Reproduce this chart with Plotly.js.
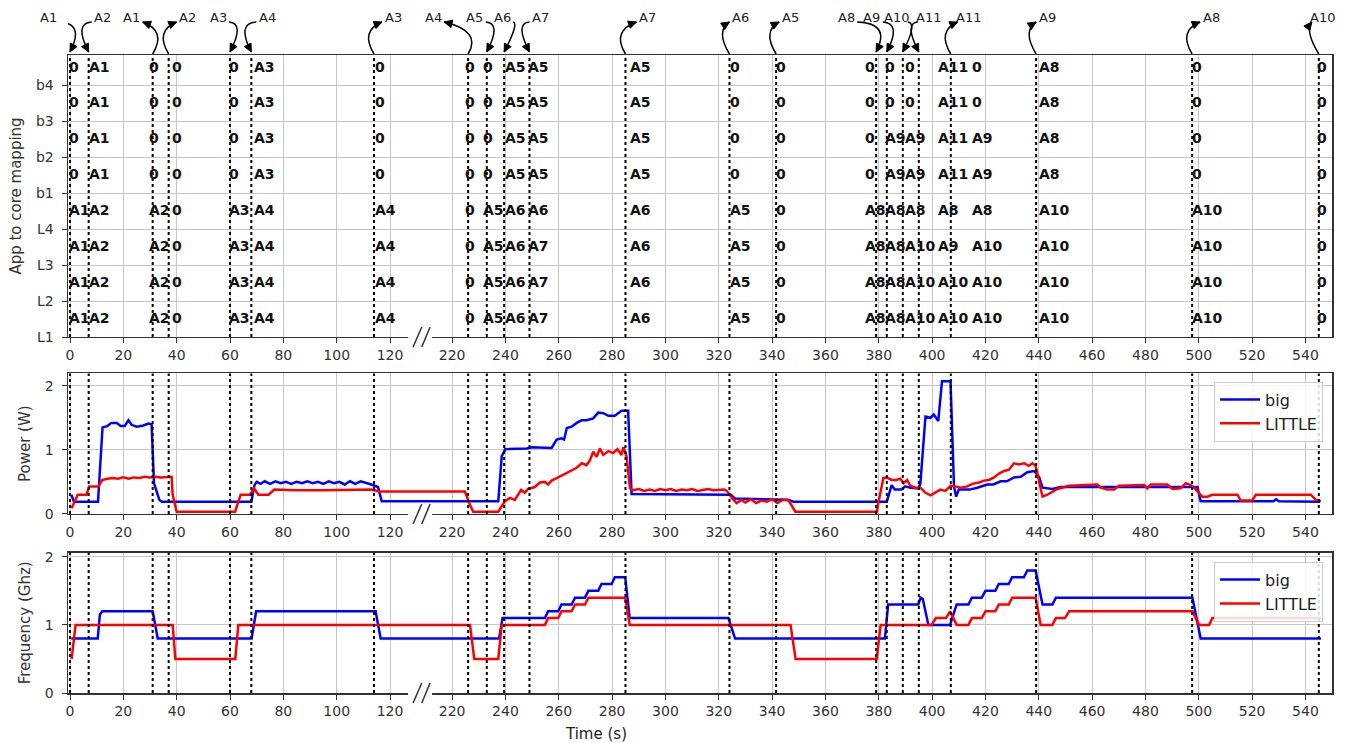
<!DOCTYPE html>
<html><head><meta charset="utf-8">
<script src="https://cdn.plot.ly/plotly-3.0.1.min.js"></script>
<style>html,body{margin:0;padding:0;background:#fff;}#chart{width:1349px;height:743px;}</style>
</head><body><div id="chart"></div>
<script>
// ================= DATA =================
const cores = ['L1','L2','L3','L4','b1','b2','b3','b4'];
// times (s) where the app-to-core mapping labels are written
const labelTimes = [-0.4,7.1,29.5,38.2,59.7,69,114.4,225,231.5,240,248.6,286.7,324.2,341.4,374.8,382.3,390,402.1,414.9,439.9,497.4,544.5];
const mapL1 = ['A1','A2','A2','0','A3','A4','A4','0','A5','A6','A7','A6','A5','0','A8','A8','A10','A10','A10','A10','A10','0'];
const mapL2 = ['A1','A2','A2','0','A3','A4','A4','0','A5','A6','A7','A6','A5','0','A8','A8','A10','A10','A10','A10','A10','0'];
const mapL3 = ['A1','A2','A2','0','A3','A4','A4','0','A5','A6','A7','A6','A5','0','A8','A8','A10','A9','A10','A10','A10','0'];
const mapL4 = ['A1','A2','A2','0','A3','A4','A4','0','A5','A6','A6','A6','A5','0','A8','A8','A8','A8','A8','A10','A10','0'];
const mapB1 = ['0','A1','0','0','0','A3','0','0','0','A5','A5','A5','0','0','0','A9','A9','A11','A9','A8','0','0'];
const mapB2 = ['0','A1','0','0','0','A3','0','0','0','A5','A5','A5','0','0','0','A9','A9','A11','A9','A8','0','0'];
const mapB3 = ['0','A1','0','0','0','A3','0','0','0','A5','A5','A5','0','0','0','0','0','A11','0','A8','0','0'];
const mapB4 = ['0','A1','0','0','0','A3','0','0','0','A5','A5','A5','0','0','0','0','0','A11','0','A8','0','0'];

// app arrival / departure events
const eventTimes = [0,7,31,37,60,68,114,226,233,239.5,249,285,324,341.5,379,383,389,395,407,439,497.5,545];
const eventApps  = ['A1','A2','A1','A2','A3','A4','A3','A4','A5','A6','A7','A7','A6','A5','A8','A9','A10','A11','A11','A9','A8','A10'];
const eventKind  = ['in','in','out','out','in','in','out','out','in','in','in','out','out','out','in','in','in','in','out','out','out','out'];

const xTicks = [0,20,40,60,80,100,120,220,240,260,280,300,320,340,360,380,400,420,440,460,480,500,520,540];

// Power (W)
const powBigT = [0.5,1.5,10.5,12.2,14,15.5,17.5,19,20.5,21.9,23.1,25,27.5,29.4,30.6,31.5,33.5,34.4,68,69.2,70,71.5,73,75,77,79,81,83,85,87,89,91,93,95,97,99,101,103,105,107,109,111,113,115.5,116.9,
  237.3,238.6,239.9,248,250,257.3,259.2,261,262,263,264.8,266.7,268.6,270.4,272.9,274.8,276.7,278.6,281,283.5,286,287.3,324.5,326.1,346,348,383,384.8,386,388.5,389.9,391.8,394.9,395.6,397.5,399.4,400.6,402.3,403.7,406.9,408.2,409,410,414,416.9,420.7,423,425.7,428,430.7,433.2,435.7,438.2,440.1,441.4,445.1,448.2,499.5,500.7,528,529,530,545.5];
const powBig = [0.30,0.19,0.19,1.35,1.37,1.42,1.42,1.37,1.37,1.46,1.39,1.36,1.38,1.41,1.40,0.48,0.22,0.19,0.19,0.45,0.50,0.47,0.51,0.47,0.51,0.48,0.50,0.47,0.50,0.48,0.51,0.48,0.50,0.47,0.51,0.48,0.50,0.46,0.51,0.47,0.51,0.49,0.46,0.42,0.20,
  0.20,0.90,1.01,1.02,1.04,1.03,1.16,1.18,1.16,1.34,1.36,1.42,1.46,1.46,1.49,1.58,1.57,1.53,1.53,1.61,1.61,0.31,0.30,0.24,0.22,0.19,0.19,0.45,0.38,0.38,0.43,0.41,0.40,0.48,1.52,1.50,1.55,1.45,2.07,2.07,0.43,0.27,0.38,0.38,0.41,0.46,0.46,0.51,0.51,0.57,0.58,0.65,0.67,0.58,0.41,0.39,0.42,0.42,0.20,0.20,0.23,0.20,0.19];
const powLitT = [0.6,2.9,6.2,7.2,10.6,12.1,14,16,18,20,22,24,26,28,30,32,34,36,38.1,38.5,40,61.9,64,67.5,69,70.6,74.5,76.6,85,95,105,113,116,
  224.8,226.7,227.9,237.3,239.8,241.7,243.5,245.9,247.2,248.5,251,252.9,254.8,256,257.3,259.2,261,262.9,264.8,266.7,268.6,270.4,271.7,272.9,274.2,275.4,276.7,278.6,280.4,282,283.5,284.2,285.4,286.7,288,290,292,294,296,298,300,302,304,306,308,310,312,314,316,318,320,322,323,324.9,326.7,328.5,330,332,334,336,338,340,342,344,346.2,348.7,379.2,381.7,382.9,384.8,386.5,388.1,389.3,390.6,391.8,393.7,395.6,397.5,399.4,401.2,403.1,405,406.9,408.8,410.7,413.2,415.1,417.6,419.4,421.3,423.2,425.1,427,428.8,430.7,432.6,434.5,436.3,437.6,438.8,440.1,441.4,443.2,445.1,447,451.4,462,463.2,465.7,468.2,470.1,479.5,480.7,482,488.2,490.1,493.2,495.1,497,498.2,500.1,501.3,503.2,505.1,514.5,515.7,520.1,521.4,542,543.9,545.8];
const powLit = [0.09,0.30,0.30,0.43,0.43,0.53,0.55,0.56,0.55,0.57,0.55,0.57,0.56,0.58,0.57,0.58,0.57,0.58,0.58,0.30,0.035,0.035,0.30,0.30,0.40,0.30,0.30,0.38,0.37,0.37,0.37,0.38,0.35,
  0.35,0.14,0.035,0.035,0.20,0.25,0.22,0.375,0.33,0.39,0.42,0.49,0.50,0.46,0.52,0.56,0.60,0.64,0.69,0.72,0.79,0.76,0.84,0.97,0.89,1.02,0.92,0.98,0.95,1.01,0.92,1.04,0.90,0.40,0.37,0.39,0.36,0.38,0.36,0.39,0.37,0.39,0.36,0.38,0.37,0.39,0.36,0.38,0.39,0.37,0.38,0.38,0.36,0.25,0.17,0.22,0.18,0.23,0.17,0.21,0.19,0.23,0.17,0.22,0.21,0.035,0.035,0.56,0.57,0.53,0.53,0.55,0.48,0.53,0.44,0.41,0.41,0.33,0.29,0.33,0.38,0.36,0.44,0.43,0.41,0.43,0.47,0.49,0.52,0.53,0.57,0.63,0.67,0.69,0.79,0.77,0.79,0.75,0.79,0.75,0.49,0.27,0.30,0.35,0.39,0.44,0.46,0.41,0.38,0.38,0.44,0.45,0.40,0.46,0.46,0.39,0.40,0.48,0.45,0.41,0.33,0.27,0.27,0.30,0.30,0.21,0.21,0.30,0.30,0.22,0.20];

// Frequency (GHz)
const frqBigT = [0.5,10.4,11.2,12.1,31,32.9,68.1,69.8,114.6,116.5,237.6,238.9,254.8,256,259.8,261,264.8,266.1,269.8,271.1,274.8,276,279.8,281,284.9,286.6,323.6,326.1,382.3,383.5,394.8,395.7,396.5,398.6,406.7,409.2,413.6,414.9,418.6,420,423.7,425,428.7,430,434.4,435.7,438.8,441.4,445.1,446.4,497.6,500.7,545.8];
const frqBig = [0.8,0.8,1.15,1.2,1.2,0.8,0.8,1.2,1.2,0.8,0.8,1.1,1.1,1.2,1.2,1.3,1.3,1.4,1.4,1.5,1.5,1.6,1.6,1.7,1.7,1.1,1.1,0.8,0.8,1.3,1.3,1.4,1.38,1.0,1.0,1.3,1.3,1.4,1.4,1.5,1.5,1.6,1.6,1.7,1.7,1.8,1.8,1.3,1.3,1.4,1.4,0.8,0.8];
const frqLitT = [0.6,2.1,38.5,39.5,62,63.1,226.7,228.3,237.3,238.6,254.8,256,259.8,261,264.8,266.1,269.8,271.1,284.9,286.6,346.9,348.8,379.2,380.7,399.8,401.4,405.2,406.7,409.2,413.6,414.9,418.6,420,423.7,425,428.7,430,438.8,440.7,445.1,446.4,449.8,451.4,497.6,500.1,503.9,505.1,545.8];
const frqLit = [0.5,1.0,1.0,0.5,0.5,1.0,1.0,0.5,0.5,1.0,1.0,1.1,1.1,1.2,1.2,1.3,1.3,1.4,1.4,1.0,1.0,0.5,0.5,1.0,1.0,1.1,1.1,1.2,1.0,1.0,1.1,1.1,1.2,1.2,1.3,1.3,1.4,1.4,1.0,1.0,1.1,1.1,1.2,1.2,1.0,1.0,1.1,1.1];

// ================= LAYOUT HELPERS =================
const GAP = 76.7;                       // seconds removed by the broken axis
const disp = t => (t > 170 ? t - GAP : t);
const FONT = 'DejaVu Sans';
const BLUE = '#0000ff', RED = '#ff0000';

const traces = [
  {x: powBigT.map(disp), y: powBig, xaxis:'x2', yaxis:'y2', name:'big', legend:'legend', mode:'lines', line:{color:BLUE,width:2.5}},
  {x: powLitT.map(disp), y: powLit, xaxis:'x2', yaxis:'y2', name:'LITTLE', legend:'legend', mode:'lines', line:{color:RED,width:2.5}},
  {x: frqBigT.map(disp), y: frqBig, xaxis:'x3', yaxis:'y3', name:'big', legend:'legend2', mode:'lines', line:{color:BLUE,width:2.5}},
  {x: frqLitT.map(disp), y: frqLit, xaxis:'x3', yaxis:'y3', name:'LITTLE', legend:'legend2', mode:'lines', line:{color:RED,width:2.5}},
  // invisible anchor trace so the top subplot exists
  {x:[0], y:[0], xaxis:'x', yaxis:'y', mode:'markers', marker:{opacity:0}, showlegend:false, hoverinfo:'skip'}
];

const shapes = [];
const annotations = [];

// dotted event lines in all three panels
['y','y2','y3'].forEach((ya, k) => {
  const xa = ['x','x2','x3'][k];
  eventTimes.forEach(t => shapes.push({type:'line', xref:xa, yref: ya + ' domain', x0:disp(t), x1:disp(t), y0:0, y1:1,
    line:{color:'#000', width:2, dash:'dot'}, layer:'above'}));
});

// break marks "//" on each x axis
const breakX = (disp(120) + disp(220)) / 2;
['y','y2','y3'].forEach((ya, k) => {
  const xa = ['x','x2','x3'][k];
  const base = {xref:xa, yref:ya + ' domain', xsizemode:'pixel', ysizemode:'pixel', xanchor:breakX, yanchor:0, layer:'above'};
  shapes.push(Object.assign({type:'line', x0:-13, x1:11, y0:0, y1:0, line:{color:'#fff', width:4}}, base));
  shapes.push(Object.assign({type:'line', x0:-8, x1:0.7, y0:-10, y1:10, line:{color:'#333', width:1.5}}, base));
  shapes.push(Object.assign({type:'line', x0:0.7, x1:9, y0:-10, y1:10, line:{color:'#333', width:1.5}}, base));
});

// app-to-core mapping labels
const rows = [mapL1, mapL2, mapL3, mapL4, mapB1, mapB2, mapB3, mapB4];
rows.forEach((row, i) => row.forEach((lab, j) => annotations.push({
  x: disp(labelTimes[j]), y: i + 0.53, xref:'x', yref:'y', xanchor:'left', yanchor:'middle', xshift:-2,
  text:'<b>' + lab + '</b>', showarrow:false, font:{family:FONT, size:14, color:'#111'}
})));

// curved arrows for arrivals / departures (offsets of the label in pixels)
const arrowDx = [-22,14,-21,19,-12,16,19,-35,-12,-2,11,22,11,14,-30,-15,-6,10,18,11,19,4];
function P(p){ return p[0].toFixed(1) + ',' + (-p[1]).toFixed(1); } // screen y (down) -> shape pixel y (up)
eventTimes.forEach((t, i) => {
  const dx = arrowDx[i], s = dx >= 0 ? 1 : -1;
  const textEnd = [dx - s*11, -33];
  let P0, C, P2;
  if (eventKind[i] === 'in') { P0 = textEnd; C = [-s*15, -32]; P2 = [0, -3]; }
  else { P0 = [0, -1]; C = [-s*14, -24]; P2 = textEnd; }
  const base = {xref:'x', yref:'paper', xsizemode:'pixel', ysizemode:'pixel', xanchor:disp(t), yanchor:1, layer:'above'};
  shapes.push(Object.assign({type:'path', path:'M' + P(P0) + ' Q' + P(C) + ' ' + P(P2), line:{color:'#000', width:1.5}}, base));
  let vx = P2[0]-C[0], vy = P2[1]-C[1]; const L = Math.hypot(vx, vy); vx/=L; vy/=L;
  const b = [P2[0]-vx*8, P2[1]-vy*8], n = [-vy*3.8, vx*3.8];
  shapes.push(Object.assign({type:'path', path:'M' + P(P2) + ' L' + P([b[0]+n[0], b[1]+n[1]]) + ' L' + P([b[0]-n[0], b[1]-n[1]]) + ' Z',
    fillcolor:'#000', line:{color:'#000', width:1}}, base));
  annotations.push({x:disp(t), y:1, xref:'x', yref:'paper', xshift:dx, yshift:38, xanchor:'center', yanchor:'middle',
    text:eventApps[i], showarrow:false, font:{family:FONT, size:13, color:'#222'}});
});

// x-axis title
annotations.push({x:disp(274), y:0, xref:'x', yref:'paper', yshift:-41, yanchor:'middle', xanchor:'center', text:'Time (s)',
  showarrow:false, font:{family:FONT, size:15, color:'#222'}});

const xCommon = {
  range:[disp(-0.75), disp(549.95)], tickmode:'array', tickvals:xTicks.map(disp), ticktext:xTicks.map(String),
  showgrid:true, gridcolor:'#c6c6c6', gridwidth:1, zeroline:false, showline:true, mirror:true, linecolor:'#333', linewidth:1.5,
  ticks:'outside', ticklen:5, tickcolor:'#333', tickfont:{family:FONT, size:14, color:'#333'}
};
const yCommon = {
  showgrid:true, gridcolor:'#c6c6c6', gridwidth:1, zeroline:false, showline:true, mirror:true, linecolor:'#333', linewidth:1.5,
  ticks:'outside', ticklen:5, tickcolor:'#333', ticklabelstandoff:5, tickfont:{family:FONT, size:14, color:'#333'}
};
const legendStyle = {xref:'paper', yref:'paper', xanchor:'right', yanchor:'top', bgcolor:'rgba(255,255,255,0.85)',
  bordercolor:'#cccccc', borderwidth:1, itemwidth:40, font:{family:FONT, size:16, color:'#222'}};

const layout = {
  width:1349, height:743, margin:{l:68, r:17, t:55, b:50}, paper_bgcolor:'#fff', plot_bgcolor:'#fff',
  font:{family:FONT, color:'#222'}, showlegend:true,
  xaxis: Object.assign({anchor:'y', domain:[0,1]}, xCommon),
  xaxis2: Object.assign({anchor:'y2', domain:[0,1], matches:'x'}, xCommon),
  xaxis3: Object.assign({anchor:'y3', domain:[0,1], matches:'x'}, xCommon),
  yaxis: Object.assign({anchor:'x', domain:[0.558,1], range:[0,7.85], tickmode:'array', tickvals:[0,1,2,3,4,5,6,7], ticktext:cores,
    title:{text:'App to core mapping', standoff:10, font:{family:FONT, size:15, color:'#333'}}}, yCommon),
  yaxis2: Object.assign({anchor:'x2', domain:[0.2806,0.5008], range:[0,2.19], tickmode:'array', tickvals:[0,1,2],
    title:{text:'Power (W)', standoff:10, font:{family:FONT, size:15, color:'#333'}}}, yCommon),
  yaxis3: Object.assign({anchor:'x3', domain:[0,0.2199], range:[0,2.06], tickmode:'array', tickvals:[0,1,2],
    title:{text:'Frequency (Ghz)', standoff:10, font:{family:FONT, size:15, color:'#333'}}}, yCommon),
  legend: Object.assign({x:0.9929, y:0.488}, legendStyle),
  legend2: Object.assign({x:0.9929, y:0.2058}, legendStyle),
  shapes, annotations
};

Plotly.newPlot('chart', traces, layout, {displayModeBar:false, staticPlot:true});
</script></body></html>
